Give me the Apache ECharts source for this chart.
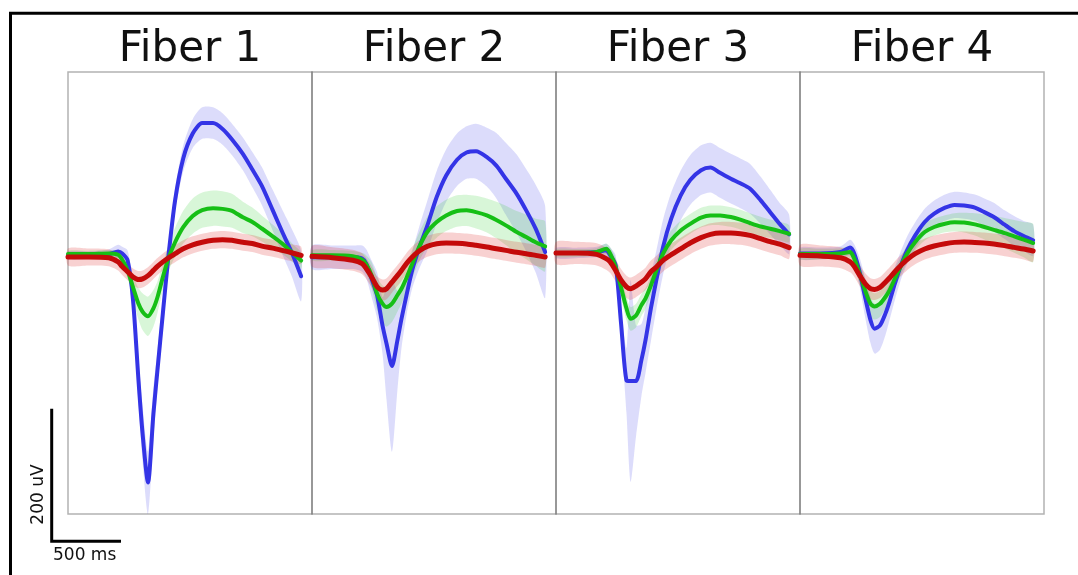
<!DOCTYPE html>
<html>
<head>
<meta charset="utf-8">
<script src="https://cdn.jsdelivr.net/npm/echarts@6/dist/echarts.min.js"></script>
<style>
html,body{margin:0;padding:0;background:#fff;}
#chart{width:1078px;height:575px;}
</style>
</head>
<body>
<div id="chart"></div>
<script>
// ---------- data ----------
const fiberNames = ['Fiber 1', 'Fiber 2', 'Fiber 3', 'Fiber 4'];
const timeMs = [0,150,300,370,400,440,480,520,550,590,630,660,700,740,790,850,920,990,1070,1140,1210,1290,1360,1430,1510,1580,1650,1720];

// Fiber 1 (uV)
const f1Blue = [0,0,2,6,3,-7.6,-69,-191,-272,-347,-242,-175,-88,-3,84,148,186,202,202,193,177,155,131,106,69,36,4.6,-32];
const f1BlueSem = [6,6,7,10,10,15,25,35,42,48,40,30,22,18,18,20,22,24,24,24,24,25,27,29,31,34,36,38];
const f1Green = [2,2,3,1,-6.6,-23,-49,-74,-86,-93,-81,-64,-33,-5,20,43,60,69,72,71,68,58,51,41,29,18,5,-8];
const f1GreenSem = [5,5,5,6,8,12,18,24,28,30,28,24,20,20,22,25,27,27,27,27,26,24,22,20,18,16,14,12];
const f1Red = [-2.5,-2.5,-3.6,-10,-17,-25,-33,-37,-36,-31,-23,-17,-10,-4,2.5,10,16,20,23,24,23,20,18,14,11,7.6,4,0];
const f1RedSem = [13,13,13,13,13,13,13,13,13,13,13,13,13,13,13,13,13,13,13,13,13,13,13,13,13,13,13,13];

// Fiber 2
const f2Blue = [-3,-3,-3,-5,-12.7,-36,-61,-107,-135,-169,-130,-97,-58,-22,11,45,89,122,146,157,159,150,137,117,94,68.7,40.7,5];
const f2BlueSem = [18,18,18,20,22,28,35,43,86,131,76,45,30,28,32,38,40,40,40,40,42,45,50,55,60,63,67,70];
const f2Green = [0,0,-1.5,-6.6,-13.7,-30.5,-58.5,-73.8,-78.9,-73.8,-61,-51,-33,-12.7,12.7,35.6,50.9,61,67.7,68.7,66,61,54,45.8,35.6,28,20,13.7];
const f2GreenSem = [8,8,8,10,14,20,25,28,30,28,25,23,22,22,22,23,24,24,24,24,25,26,28,30,32,34,36,38];
const f2Red = [-1.5,-3.6,-7.6,-12.7,-20,-33,-48,-53,-51,-41,-31,-23,-11.7,-2.5,6.6,13.7,17.8,18.8,18.3,17.3,15.3,12.7,10,7.6,4.6,2.5,0,-2.5];
const f2RedSem = [16,16,16,16,16,16,16,16,16,16,16,16,16,16,16,16,16,16,16,16,16,16,16,16,16,16,16,16];

// Fiber 3
const f3Blue = [3.6,3.6,5,7.6,0,-15,-104,-191,-192,-192,-160,-130,-81,-38,12.7,56,91.6,115,130,134,126,117,110,102,84,66,48,32];
const f3BlueSem = [8,8,8,10,12,15,20,50,154,85,55,50,50,45,42,40,38,38,38,38,38,38,38,38,36,34,32,30];
const f3Green = [3.6,3.6,5,10,2.5,-18,-49,-81,-97,-92,-76,-66,-46,-23,2.5,23,38,48,57.5,61,61,58.5,54.5,49.4,44,40.7,37,33];
const f3GreenSem = [6,6,6,8,10,14,16,18,18,18,17,16,15,15,15,15,15,15,15,15,15,15,15,15,15,14,14,13];
const f3Red = [3.6,3.6,1.5,-5,-10,-23,-38,-48,-51,-47,-41,-36,-25,-18,-7.6,1,10,18.8,27,32,34,34,33,30.5,25.5,21,17,11.7];
const f3RedSem = [17,17,17,17,17,17,17,17,17,17,17,17,17,17,17,17,17,17,17,17,17,17,17,17,17,17,17,17];

// Fiber 4
const f4Blue = [3,3,5,12,3,-25.5,-63.6,-99,-112,-107,-89,-71,-43,-17.8,7.6,30.5,51,63.6,72.8,77,76,72.8,66,58.5,46.8,37,29.5,23];
const f4BlueSem = [9,9,9,12,14,22,30,35,38,37,33,28,25,22,21,20,20,20,20,20,20,20,21,22,22,23,23,24];
const f4Green = [2,2,3,5,-5,-28,-53.4,-74,-78,-74,-63.6,-53.4,-35.6,-17.8,2.5,20.4,35.6,43.3,48.3,50.4,50,47.3,43.3,39,34,29,24,18.8];
const f4GreenSem = [8,8,8,9,12,16,18,20,20,20,18,16,15,14,13,13,13,13,13,14,15,17,19,21,23,25,27,29];
const f4Red = [0,-1,-3.6,-10,-16.8,-30.5,-43,-51,-52,-49,-41,-34.6,-25,-16.3,-6.6,2.5,9.7,14.3,17.8,19.8,20.4,19.8,18.8,17.3,14.8,12.2,9.7,6.6];
const f4RedSem = [16,16,16,16,16,16,16,16,16,16,16,16,16,16,16,16,16,16,16,16,16,16,16,16,16,16,16,16];

// scale bar
const scaleBarMs = 500;
const scaleBarUv = 200;
const scaleBarLabels = ['500 ms', '200 uV'];

// ---------- chart ----------
const fibers = [
  {blue: f1Blue, blueSem: f1BlueSem, green: f1Green, greenSem: f1GreenSem, red: f1Red, redSem: f1RedSem},
  {blue: f2Blue, blueSem: f2BlueSem, green: f2Green, greenSem: f2GreenSem, red: f2Red, redSem: f2RedSem},
  {blue: f3Blue, blueSem: f3BlueSem, green: f3Green, greenSem: f3GreenSem, red: f3Red, redSem: f3RedSem},
  {blue: f4Blue, blueSem: f4BlueSem, green: f4Green, greenSem: f4GreenSem, red: f4Red, redSem: f4RedSem}
];

const X_MAX = 1800, Y_MIN = -395, Y_MAX = 280;
const PANEL_LEFT = 68, PANEL_W = 244, PANEL_TOP = 72, PANEL_H = 442;
const styles = {
  blue: {line: '#3434e6', band: 'rgba(80,80,235,0.2)', width: 4},
  green: {line: '#16bf16', band: 'rgba(40,205,40,0.18)', width: 4},
  red: {line: '#c40a0a', band: 'rgba(225,45,45,0.22)', width: 5}
};
const SMOOTH = 0.25;

const grids = [], xAxes = [], yAxes = [], series = [], graphics = [];
fibers.forEach((f, gi) => {
  grids.push({left: PANEL_LEFT + gi * PANEL_W, top: PANEL_TOP, width: PANEL_W, height: PANEL_H,
    show: true, borderColor: 'rgba(0,0,0,0.3)', borderWidth: 1.5, backgroundColor: 'transparent'});
  xAxes.push({type: 'value', gridIndex: gi, min: 0, max: X_MAX, show: false});
  yAxes.push({type: 'value', gridIndex: gi, min: Y_MIN, max: Y_MAX, show: false});
  ['blue', 'green', 'red'].forEach(c => {
    const mean = f[c], sem = f[c + 'Sem'], st = styles[c];
    // SEM band as polygon through the axis scales
    series.push({
      type: 'custom', xAxisIndex: gi, yAxisIndex: gi, silent: true, animation: false,
      data: [[timeMs[0], mean[0]]],
      renderItem: function (params, api) {
        const upper = timeMs.map((t, i) => api.coord([t, mean[i] + sem[i]]));
        const lower = timeMs.map((t, i) => api.coord([t, mean[i] - sem[i]])).reverse();
        return {type: 'polygon', shape: {points: upper.concat(lower), smooth: SMOOTH},
          style: {fill: st.band, stroke: null}};
      }
    });
    series.push({
      type: 'line', xAxisIndex: gi, yAxisIndex: gi, symbol: 'none', smooth: SMOOTH,
      silent: true, animation: false, emphasis: {disabled: true},
      data: timeMs.map((t, i) => [t, mean[i]]),
      lineStyle: {color: st.line, width: st.width, join: 'round', cap: 'round'}
    });
  });
  graphics.push({type: 'text', x: PANEL_LEFT + gi * PANEL_W + PANEL_W / 2, y: 50,
    style: {text: fiberNames[gi], font: '42px "DejaVu Sans"', fill: '#111', align: 'center', verticalAlign: 'middle'}});
});

// scale-bar grid: same px-per-unit scale as the panels, placed at the bar position
const pxPerMs = PANEL_W / X_MAX, pxPerUv = PANEL_H / (Y_MAX - Y_MIN);
const SB_X = 51.7, SB_Y = 541.3;
const sbXMin = -20, sbXMax = 880, sbYMin = -10, sbYMax = 216;
const sbIdx = 4;
grids.push({
  left: SB_X + sbXMin * pxPerMs,
  top: SB_Y - sbYMax * pxPerUv,
  width: (sbXMax - sbXMin) * pxPerMs,
  height: (sbYMax - sbYMin) * pxPerUv,
  show: false
});
xAxes.push({type: 'value', gridIndex: sbIdx, min: sbXMin, max: sbXMax, show: false});
yAxes.push({type: 'value', gridIndex: sbIdx, min: sbYMin, max: sbYMax, show: false});
series.push({type: 'line', xAxisIndex: sbIdx, yAxisIndex: sbIdx, symbol: 'none', silent: true, animation: false,
  data: [[0, scaleBarUv], [0, 0], [scaleBarMs, 0]],
  lineStyle: {color: '#000', width: 3, join: 'miter', cap: 'square'}});

graphics.push({type: 'text', x: 53, y: 556,
  style: {text: scaleBarLabels[0], font: '17px "DejaVu Sans"', fill: '#111', align: 'left', verticalAlign: 'middle'}});
graphics.push({type: 'text', x: 38.5, y: 494.5, rotation: Math.PI / 2,
  style: {text: scaleBarLabels[1], font: '17px "DejaVu Sans"', fill: '#111', align: 'center', verticalAlign: 'middle'}});
// outer frame
graphics.push({type: 'rect', shape: {x: 10.5, y: 13.3, width: 1200, height: 700},
  style: {fill: 'none', stroke: '#000', lineWidth: 3}, silent: true});

const chart = echarts.init(document.getElementById('chart'), null, {renderer: 'canvas'});
chart.setOption({
  animation: false,
  backgroundColor: '#fff',
  grid: grids,
  xAxis: xAxes,
  yAxis: yAxes,
  series: series,
  graphic: graphics
});
</script>
</body>
</html>
